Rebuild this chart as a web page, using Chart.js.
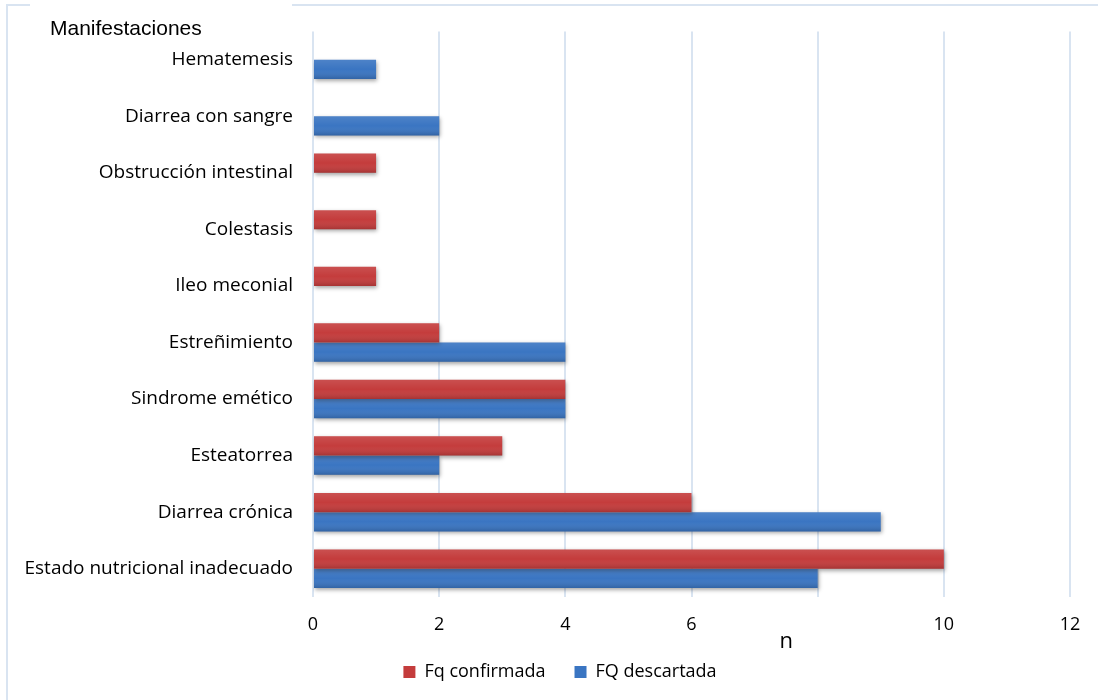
<!DOCTYPE html>
<html>
<head>
<meta charset="utf-8">
<script src="https://cdn.jsdelivr.net/npm/chart.js@4/dist/chart.umd.min.js"></script>
<style>
  html, body { margin: 0; padding: 0; background: #ffffff; }
  #wrap { position: relative; width: 1098px; height: 700px; }
</style>
</head>
<body>
<div id="wrap"><canvas id="chart" width="1098" height="700"></canvas></div>
<script>
// Manifestaciones gastrointestinales por grupo
const categories = [
  'Hematemesis',
  'Diarrea con sangre',
  'Obstrucción intestinal',
  'Colestasis',
  'Ileo meconial',
  'Estreñimiento',
  'Sindrome emético',
  'Esteatorrea',
  'Diarrea crónica',
  'Estado nutricional inadecuado'
];
const fqConfirmada = [0, 0, 1, 1, 1, 2, 4, 3, 6, 10];
const fqDescartada = [1, 2, 0, 0, 0, 4, 4, 2, 9, 8];
const xTickLabels = ['0', '2', '4', '6', '', '10', '12'];
const axisTitle = 'Manifestaciones';
const valueTitle = 'n';

const FONT_BODY = '"Open Sans", "Noto Sans", sans-serif';
const FONT_TITLE = '"Liberation Sans", Arial, sans-serif';
const FRAME = '#d9e4f1';
const TEXT = '#000000';

// Frame, heading, axis name, shading on the bars
const decorations = {
  id: 'decorations',
  afterLayout(chart) {
    // nudge the legend a little right and up
    const lg = chart.legend;
    lg.left += 25; lg.right += 25;
    lg.top -= 5; lg.bottom -= 5;
  },
  beforeDraw(chart) {
    const c = chart.ctx;
    c.save();
    c.strokeStyle = FRAME;
    c.lineWidth = 2;
    c.beginPath();
    c.moveTo(30, 5); c.lineTo(7, 5); c.lineTo(7, 700);
    c.moveTo(292, 5); c.lineTo(1098, 5);
    c.stroke();
    c.fillStyle = '#000000';
    c.font = '21px ' + FONT_TITLE;
    c.textBaseline = 'middle';
    c.textAlign = 'left';
    c.fillText(axisTitle, 50, 29);
    c.restore();
  },
  beforeDatasetsDraw(chart) {
    const c = chart.ctx;
    c.save();
    c.shadowColor = 'rgba(0,0,0,0.35)';
    c.shadowBlur = 4;
    c.shadowOffsetX = 1;
    c.shadowOffsetY = 2;
  },
  afterDatasetsDraw(chart) {
    const c = chart.ctx;
    c.restore();
    c.save();
    chart.data.datasets.forEach((ds, di) => {
      const meta = chart.getDatasetMeta(di);
      meta.data.forEach(bar => {
        const p = bar.getProps(['x', 'y', 'base', 'height'], true);
        const w = p.x - p.base;
        if (w <= 0) return;
        const top = p.y - p.height / 2;
        const g = c.createLinearGradient(0, top, 0, top + p.height);
        g.addColorStop(0, 'rgba(255,255,255,0.10)');
        g.addColorStop(0.5, 'rgba(255,255,255,0)');
        g.addColorStop(1, 'rgba(0,0,0,0.16)');
        c.fillStyle = g;
        c.fillRect(p.base, top, w, p.height);
      });
    });
    const xs = chart.scales.x;
    c.fillStyle = '#000000';
    c.font = '22px ' + FONT_BODY;
    c.textAlign = 'center';
    c.textBaseline = 'middle';
    c.fillText(valueTitle, xs.getPixelForValue(7.5), 642);
    c.restore();
  }
};

new Chart(document.getElementById('chart'), {
  type: 'bar',
  data: {
    labels: categories,
    datasets: [
      {
        label: 'Fq confirmada',
        data: fqConfirmada,
        backgroundColor: '#c43c3c',
        borderWidth: 0,
        categoryPercentage: 0.68,
        barPercentage: 1.0
      },
      {
        label: 'FQ descartada',
        data: fqDescartada,
        backgroundColor: '#3a75c2',
        borderWidth: 0,
        categoryPercentage: 0.68,
        barPercentage: 1.0
      }
    ]
  },
  options: {
    indexAxis: 'y',
    responsive: false,
    animation: false,
    layout: { padding: { top: 31, right: 28, bottom: 4, left: 0 } },
    scales: {
      x: {
        min: 0,
        max: 12,
        ticks: {
          stepSize: 2,
          padding: 17,
          color: TEXT,
          font: { family: FONT_BODY, size: 18 },
          callback: (v, i) => xTickLabels[i]
        },
        grid: { color: FRAME, lineWidth: 2, drawTicks: false },
        border: { display: false },
        afterFit(s) { s.height = 42; }
      },
      y: {
        ticks: {
          padding: 20,
          color: TEXT,
          font: { family: FONT_BODY, size: 19 }
        },
        grid: { display: false, drawTicks: false },
        border: { display: false },
        afterFit(s) { s.width = 313; }
      }
    },
    plugins: {
      legend: {
        position: 'bottom',
        labels: {
          boxWidth: 12,
          boxHeight: 12,
          padding: 29,
          color: TEXT,
          font: { family: FONT_BODY, size: 18 }
        }
      },
      tooltip: { enabled: false }
    }
  },
  plugins: [decorations]
});
</script>
</body>
</html>
